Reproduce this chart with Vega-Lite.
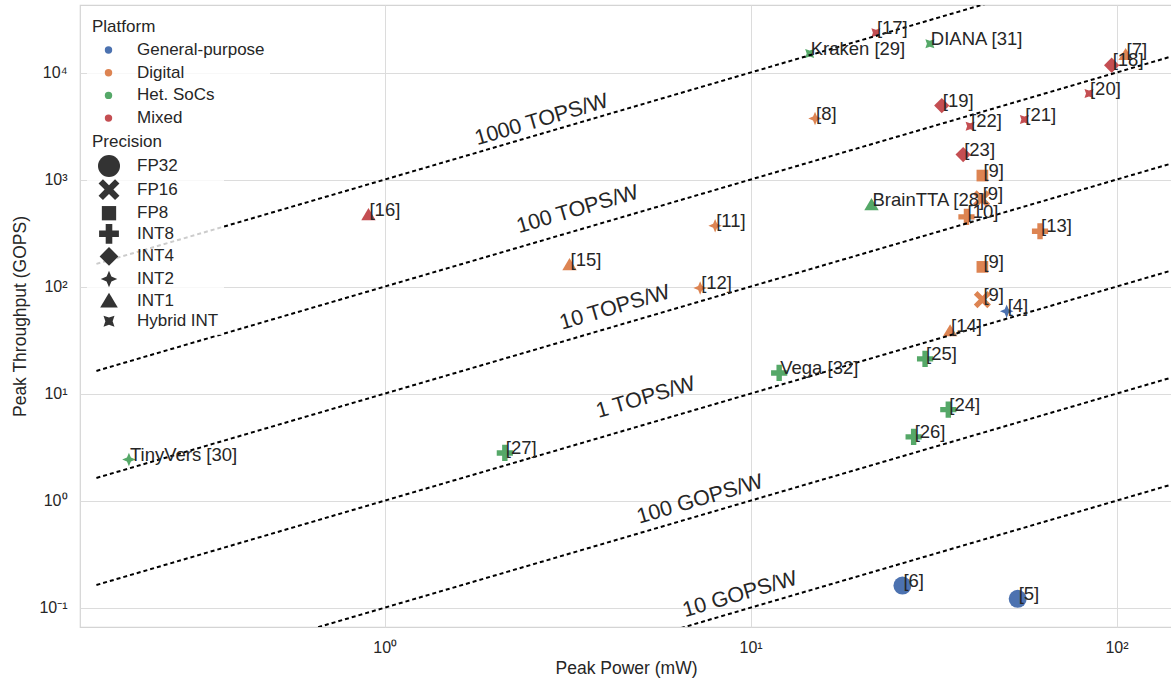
{
  "$schema": "https://vega.github.io/schema/vega-lite/v6.json",
  "width": 1092,
  "height": 622,
  "autosize": {"type": "none"},
  "padding": {"left": 80, "top": 5, "right": 0, "bottom": 52},
  "config": {
    "font": "Liberation Sans",
    "view": {"stroke": "#d4d4d4", "strokeWidth": 1.2},
    "axis": {"labelColor": "#262626", "titleColor": "#262626", "titleFontWeight": "normal", "gridColor": "#dcdcdc", "gridWidth": 1, "ticks": false, "domain": false, "labelFontSize": 16, "titleFontSize": 17.5, "labelFont": "Liberation Sans", "titleFont": "Liberation Sans"},
    "legend": {"titleFontWeight": "normal", "titleColor": "#262626", "labelColor": "#262626", "titleFontSize": 17, "labelFontSize": 17, "fillColor": "rgba(255,255,255,0.8)", "padding": 5, "titleFont": "Liberation Sans", "labelFont": "Liberation Sans"}
  },
  "datasets": {
    "chips": [
      {"label": "[4]", "power": 50.1, "gops": 58.8, "platform": "General-purpose", "precision": "INT2"},
      {"label": "[5]", "power": 53.7, "gops": 0.121, "platform": "General-purpose", "precision": "FP32"},
      {"label": "[6]", "power": 26.0, "gops": 0.161, "platform": "General-purpose", "precision": "FP32"},
      {"label": "[7]", "power": 105.9, "gops": 14730, "platform": "Digital", "precision": "INT1"},
      {"label": "[8]", "power": 15.0, "gops": 3717, "platform": "Digital", "precision": "INT2"},
      {"label": "[9]", "power": 43.0, "gops": 1090, "platform": "Digital", "precision": "FP8"},
      {"label": "[9]", "power": 42.8, "gops": 660, "platform": "Digital", "precision": "FP16"},
      {"label": "[9]", "power": 43.0, "gops": 152.8, "platform": "Digital", "precision": "FP8"},
      {"label": "[9]", "power": 43.0, "gops": 75.6, "platform": "Digital", "precision": "FP16"},
      {"label": "[10]", "power": 38.9, "gops": 448, "platform": "Digital", "precision": "INT8"},
      {"label": "[11]", "power": 8.0, "gops": 371, "platform": "Digital", "precision": "INT2"},
      {"label": "[12]", "power": 7.28, "gops": 97.2, "platform": "Digital", "precision": "INT2"},
      {"label": "[13]", "power": 61.8, "gops": 329, "platform": "Digital", "precision": "INT8"},
      {"label": "[14]", "power": 35.1, "gops": 38.8, "platform": "Digital", "precision": "INT1"},
      {"label": "[15]", "power": 3.2, "gops": 160.7, "platform": "Digital", "precision": "INT1"},
      {"label": "[16]", "power": 0.903, "gops": 471, "platform": "Mixed", "precision": "INT1"},
      {"label": "[17]", "power": 22.0, "gops": 23500, "platform": "Mixed", "precision": "Hybrid INT"},
      {"label": "[18]", "power": 97.0, "gops": 11700, "platform": "Mixed", "precision": "INT4"},
      {"label": "[19]", "power": 33.3, "gops": 4917, "platform": "Mixed", "precision": "INT4"},
      {"label": "[20]", "power": 84.1, "gops": 6367, "platform": "Mixed", "precision": "Hybrid INT"},
      {"label": "[21]", "power": 56.0, "gops": 3638, "platform": "Mixed", "precision": "Hybrid INT"},
      {"label": "[22]", "power": 39.8, "gops": 3150, "platform": "Mixed", "precision": "Hybrid INT"},
      {"label": "[23]", "power": 38.1, "gops": 1713, "platform": "Mixed", "precision": "INT4"},
      {"label": "[24]", "power": 34.7, "gops": 7.09, "platform": "Het. SoCs", "precision": "INT8"},
      {"label": "[25]", "power": 29.98, "gops": 21.1, "platform": "Het. SoCs", "precision": "INT8"},
      {"label": "[26]", "power": 27.9, "gops": 3.94, "platform": "Het. SoCs", "precision": "INT8"},
      {"label": "[27]", "power": 2.13, "gops": 2.79, "platform": "Het. SoCs", "precision": "INT8"},
      {"label": "BrainTTA [28]", "power": 21.4, "gops": 584, "platform": "Het. SoCs", "precision": "INT1"},
      {"label": "Kraken [29]", "power": 14.5, "gops": 15060, "platform": "Het. SoCs", "precision": "Hybrid INT"},
      {"label": "TinyVers [30]", "power": 0.2, "gops": 2.42, "platform": "Het. SoCs", "precision": "INT2"},
      {"label": "DIANA [31]", "power": 30.9, "gops": 18540, "platform": "Het. SoCs", "precision": "Hybrid INT"},
      {"label": "Vega [32]", "power": 11.97, "gops": 15.6, "platform": "Het. SoCs", "precision": "INT8"}
    ],
    "efficiency": [
      {"line": "1000 TOPS/W", "power": 0.163, "gops": 163},
      {"line": "1000 TOPS/W", "power": 141.8, "gops": 141800},
      {"line": "100 TOPS/W", "power": 0.163, "gops": 16.3},
      {"line": "100 TOPS/W", "power": 141.8, "gops": 14180},
      {"line": "10 TOPS/W", "power": 0.163, "gops": 1.63},
      {"line": "10 TOPS/W", "power": 141.8, "gops": 1418},
      {"line": "1 TOPS/W", "power": 0.163, "gops": 0.163},
      {"line": "1 TOPS/W", "power": 141.8, "gops": 141.8},
      {"line": "100 GOPS/W", "power": 0.163, "gops": 0.0163},
      {"line": "100 GOPS/W", "power": 141.8, "gops": 14.18},
      {"line": "10 GOPS/W", "power": 0.163, "gops": 0.00163},
      {"line": "10 GOPS/W", "power": 141.8, "gops": 1.418}
    ],
    "effLabels": [
      {"line": "1000 TOPS/W", "power": 2.685, "gops": 3583},
      {"line": "100 TOPS/W", "power": 3.37, "gops": 521},
      {"line": "10 TOPS/W", "power": 4.26, "gops": 63.2},
      {"line": "1 TOPS/W", "power": 5.17, "gops": 9.12},
      {"line": "100 GOPS/W", "power": 7.28, "gops": 1.02},
      {"line": "10 GOPS/W", "power": 9.36, "gops": 0.132}
    ]
  },
  "encoding": {
    "x": {"field": "power", "type": "quantitative", "scale": {"type": "log", "domain": [0.147, 141.8], "nice": false},
      "axis": {"title": "Peak Power (mW)", "values": [1, 10, 100], "labelExpr": "datum.value < 5 ? '10⁰' : datum.value < 50 ? '10¹' : '10²'", "labelPadding": 12, "titlePadding": 4, "grid": true}},
    "y": {"field": "gops", "type": "quantitative", "scale": {"type": "log", "domain": [0.066, 42760], "nice": false},
      "axis": {"title": "Peak Throughput (GOPS)", "values": [0.1, 1, 10, 100, 1000, 10000], "labelExpr": "datum.value < 0.5 ? '10⁻¹' : datum.value < 5 ? '10⁰' : datum.value < 50 ? '10¹' : datum.value < 500 ? '10²' : datum.value < 5000 ? '10³' : '10⁴'", "labelPadding": 13, "titlePadding": 9, "grid": true}}
  },
  "layer": [
    {
      "data": {"name": "chips"},
      "mark": {"type": "point", "filled": true, "size": 324, "opacity": 1, "strokeWidth": 0},
      "encoding": {
        "color": {"field": "platform", "type": "nominal",
          "scale": {"domain": ["General-purpose", "Digital", "Het. SoCs", "Mixed"], "range": ["#4C72B0", "#DD8452", "#55A868", "#C44E52"]},
          "legend": {"title": "Platform", "orient": "none", "legendX": 7, "legendY": 8.5, "symbolType": "circle", "symbolSize": 55, "symbolStrokeWidth": 0, "rowPadding": 4.7, "titlePadding": 6, "symbolOffset": 8, "labelOffset": 20, "zindex": 1}},
        "shape": {"field": "precision", "type": "nominal",
          "scale": {"domain": ["FP32", "FP16", "FP8", "INT8", "INT4", "INT2", "INT1", "Hybrid INT"],
            "range": ["circle",
              "M-0.55,-0.95 L0,-0.4 L0.55,-0.95 L0.95,-0.55 L0.4,0 L0.95,0.55 L0.55,0.95 L0,0.4 L-0.55,0.95 L-0.95,0.55 L-0.4,0 L-0.95,-0.55 Z",
              "M-0.65,-0.65 L0.65,-0.65 L0.65,0.65 L-0.65,0.65 Z",
              "M-0.3,-0.9 L0.3,-0.9 L0.3,-0.3 L0.9,-0.3 L0.9,0.3 L0.3,0.3 L0.3,0.9 L-0.3,0.9 L-0.3,0.3 L-0.9,0.3 L-0.9,-0.3 L-0.3,-0.3 Z",
              "M0,-0.85 L0.85,0 L0,0.85 L-0.85,0 Z",
              "M0,-0.75 L0.22,-0.22 L0.75,0 L0.22,0.22 L0,0.75 L-0.22,0.22 L-0.75,0 L-0.22,-0.22 Z",
              "M0,-0.72 L0.8,0.62 L-0.8,0.62 Z",
              "M-0.5,-0.5 L0,-0.33 L0.5,-0.5 L0.33,0 L0.5,0.5 L0,0.33 L-0.5,0.5 L-0.33,0 Z"]},
          "legend": {"title": "Precision", "orient": "none", "legendX": 7, "legendY": 124, "symbolSize": 484, "symbolFillColor": "#333333", "symbolStrokeColor": "#333333", "symbolStrokeWidth": 0, "rowPadding": 1.6, "titlePadding": 4, "symbolOffset": 6, "labelOffset": 17, "zindex": 1}}
      }
    },
    {
      "data": {"name": "efficiency"},
      "mark": {"type": "line", "color": "black", "strokeWidth": 2, "strokeDash": [4, 3], "clip": true},
      "encoding": {"detail": {"field": "line", "type": "nominal"}}
    },
    {
      "data": {"name": "chips"},
      "mark": {"type": "text", "align": "left", "baseline": "middle", "dx": 1, "dy": -5, "fontSize": 18.5, "color": "#262626"},
      "encoding": {"text": {"field": "label", "type": "nominal"}}
    },
    {
      "data": {"name": "effLabels"},
      "mark": {"type": "text", "align": "center", "baseline": "middle", "angle": -16.3, "fontSize": 21.5, "color": "#262626"},
      "encoding": {"text": {"field": "line", "type": "nominal"}}
    }
  ]
}
